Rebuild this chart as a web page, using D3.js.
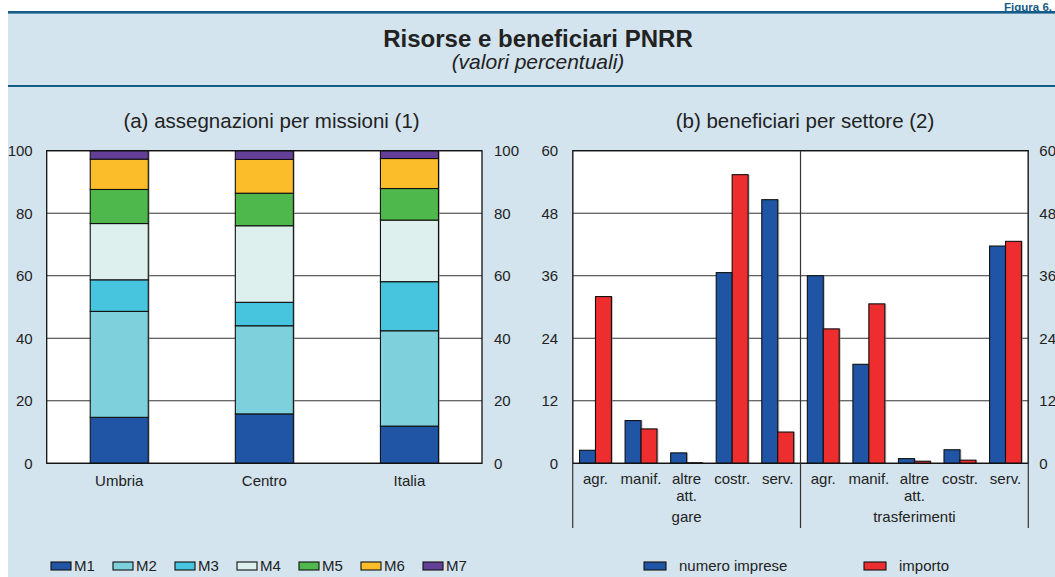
<!DOCTYPE html>
<html>
<head>
<meta charset="utf-8">
<script src="https://cdn.jsdelivr.net/npm/d3@7"></script>
<style>
  html, body { margin: 0; padding: 0; background: #ffffff; }
  svg { display: block; font-family: "Liberation Sans", Arial, sans-serif; }
</style>
</head>
<body>
<svg id="chart" width="1055" height="577"></svg>
<script>
// ---- Panel (a): allocation by mission, per area (percent) ----
const regions = ["Umbria", "Centro", "Italia"];
const missions = ["M1", "M2", "M3", "M4", "M5", "M6", "M7"];
const m1 = [14.7, 15.8, 11.9];
const m2 = [33.9, 28.2, 30.5];
const m3 = [10.1, 7.5, 15.7];
const m4 = [18.0, 24.5, 19.7];
const m5 = [10.9, 10.4, 10.1];
const m6 = [9.7, 10.8, 9.6];
const m7 = [2.7, 2.8, 2.5];
const missionTicks = [0, 20, 40, 60, 80, 100];

// ---- Panel (b): beneficiaries by sector (percent) ----
const channels = ["gare", "trasferimenti"];
const sectors = ["agr.", "manif.", "altre att.", "costr.", "serv."];
const numeroImpreseGare = [2.5, 8.2, 2.0, 36.6, 50.6];
const numeroImpreseTrasf = [36.0, 19.0, 0.9, 2.6, 41.7];
const importoGare = [32.0, 6.6, 0.1, 55.4, 6.0];
const importoTrasf = [25.8, 30.6, 0.4, 0.6, 42.6];
const sectorTicks = [0, 12, 24, 36, 48, 60];
const seriesNames = ["numero imprese", "importo"];

const missionColors = ["#1f55a4", "#7dd0dc", "#48c5de", "#ddf0ee", "#4fb84c", "#fbbd29", "#643f97"];
const seriesColors = ["#1f55a4", "#ee2d2e"];

const svg = d3.select("#chart");
const W = 1055, H = 577;
const bg = "#d3e4ee";
const ink = "#222";

// frame and header
svg.append("rect").attr("x", 8).attr("y", 12).attr("width", W - 8).attr("height", H - 12).attr("fill", bg);
svg.append("text").attr("x", 1052).attr("y", 10.8).attr("text-anchor", "end")
  .attr("font-size", 11.5).attr("font-weight", "bold").attr("fill", "#145c88").text("Figura 6.");
svg.append("rect").attr("x", 8).attr("y", 11).attr("width", W - 8).attr("height", 2.6).attr("fill", "#145c88");
svg.append("rect").attr("x", 8).attr("y", 85).attr("width", W - 8).attr("height", 2).attr("fill", "#145c88");
svg.append("text").attr("x", 538).attr("y", 47).attr("text-anchor", "middle")
  .attr("font-size", 24).attr("font-weight", "bold").attr("fill", ink).text("Risorse e beneficiari PNRR");
svg.append("text").attr("x", 538).attr("y", 69).attr("text-anchor", "middle")
  .attr("font-size", 21).attr("font-style", "italic").attr("fill", ink).text("(valori percentuali)");

// ================= Panel (a) =================
const A = { left: 46.7, right: 482, top: 150.7, bottom: 463.3 };
svg.append("text").attr("x", 271.5).attr("y", 128).attr("text-anchor", "middle")
  .attr("font-size", 20.5).attr("fill", ink).text("(a) assegnazioni per missioni (1)");

const xA = d3.scaleBand().domain(regions).range([A.left, A.right]).paddingInner(0.6).paddingOuter(0.3);
const yA = d3.scaleLinear().domain([0, 100]).range([A.bottom, A.top]);

svg.append("rect").attr("x", A.left).attr("y", A.top).attr("width", A.right - A.left)
  .attr("height", A.bottom - A.top).attr("fill", "#fff");

const gA = svg.append("g");
gA.selectAll("line.grid").data(missionTicks).join("line")
  .attr("x1", A.left).attr("x2", A.right)
  .attr("y1", d => yA(d)).attr("y2", d => yA(d))
  .attr("stroke", "#333").attr("stroke-width", 1);

const missionValues = [m1, m2, m3, m4, m5, m6, m7];
const rowsA = regions.map((r, i) => {
  const o = { region: r };
  missions.forEach((m, k) => { o[m] = missionValues[k][i]; });
  return o;
});
const stackA = d3.stack().keys(missions)(rowsA);

// soft shadow behind each column
gA.selectAll("rect.shadow").data(rowsA).join("rect")
  .attr("x", d => xA(d.region) + 1.5).attr("y", yA(100))
  .attr("width", xA.bandwidth()).attr("height", yA(0) - yA(100))
  .attr("fill", "#888").attr("opacity", 0.55);

stackA.forEach((layer, k) => {
  gA.selectAll(null).data(layer).join("rect")
    .attr("x", d => xA(d.data.region))
    .attr("y", d => yA(d[1]))
    .attr("width", xA.bandwidth())
    .attr("height", d => yA(d[0]) - yA(d[1]))
    .attr("fill", missionColors[k])
    .attr("stroke", "#111").attr("stroke-width", 1.1);
});

svg.append("rect").attr("x", A.left).attr("y", A.top).attr("width", A.right - A.left)
  .attr("height", A.bottom - A.top).attr("fill", "none").attr("stroke", "#111").attr("stroke-width", 1.3);

const axLeftA = svg.append("g").attr("transform", `translate(${A.left - 14},0)`)
  .call(d3.axisLeft(yA).tickValues(missionTicks).tickSize(0).tickPadding(0));
const axRightA = svg.append("g").attr("transform", `translate(${A.right + 12},0)`)
  .call(d3.axisRight(yA).tickValues(missionTicks).tickSize(0).tickPadding(0));
const axBottomA = svg.append("g").attr("transform", `translate(0,${A.bottom})`)
  .call(d3.axisBottom(xA).tickSize(0).tickPadding(0));
[axLeftA, axRightA, axBottomA].forEach(g => {
  g.select(".domain").remove();
  g.selectAll("text").attr("font-size", 15).attr("fill", ink).attr("font-family", null);
});
axBottomA.selectAll("text").attr("y", 23).attr("dy", 0);

// legend (a)
const legA = svg.append("g");
missions.forEach((m, k) => {
  const x0 = 51 + k * 62;
  legA.append("rect").attr("x", x0).attr("y", 562).attr("width", 20).attr("height", 8)
    .attr("fill", missionColors[k]).attr("stroke", "#111").attr("stroke-width", 1.1);
  legA.append("text").attr("x", x0 + 23).attr("y", 570.5).attr("font-size", 15).attr("fill", ink).text(m);
});

// ================= Panel (b) =================
const B = { left: 572.7, right: 1028.3, top: 150.7, bottom: 463.3, axisEnd: 528 };
svg.append("text").attr("x", 805).attr("y", 128).attr("text-anchor", "middle")
  .attr("font-size", 20.5).attr("fill", ink).text("(b) beneficiari per settore (2)");

const xGroup = d3.scaleBand().domain(channels).range([B.left, B.right]);
const xSector = d3.scaleBand().domain(sectors).range([0, xGroup.bandwidth()]).paddingInner(0.3).paddingOuter(0.15);
const xSeries = d3.scaleBand().domain(seriesNames).range([0, xSector.bandwidth()]);
const yB = d3.scaleLinear().domain([0, 60]).range([B.bottom, B.top]);

svg.append("rect").attr("x", B.left).attr("y", B.top).attr("width", B.right - B.left)
  .attr("height", B.bottom - B.top).attr("fill", "#fff");

const gB = svg.append("g");
gB.selectAll("line.grid").data(sectorTicks).join("line")
  .attr("x1", B.left).attr("x2", B.right)
  .attr("y1", d => yB(d)).attr("y2", d => yB(d))
  .attr("stroke", "#333").attr("stroke-width", 1);

const seriesByChannel = {
  "gare": [numeroImpreseGare, importoGare],
  "trasferimenti": [numeroImpreseTrasf, importoTrasf]
};
const barsB = [];
channels.forEach(c => {
  sectors.forEach((s, i) => {
    seriesNames.forEach((n, k) => {
      barsB.push({ channel: c, sector: s, series: n, k, value: seriesByChannel[c][k][i] });
    });
  });
});
const bx = d => xGroup(d.channel) + xSector(d.sector) + xSeries(d.series);

gB.selectAll("rect.shadow").data(barsB).join("rect")
  .attr("x", d => bx(d) + 1.5).attr("y", d => yB(d.value))
  .attr("width", xSeries.bandwidth()).attr("height", d => yB(0) - yB(d.value))
  .attr("fill", "#888").attr("opacity", 0.55);
gB.selectAll("rect.bar").data(barsB).join("rect")
  .attr("x", bx).attr("y", d => yB(d.value))
  .attr("width", xSeries.bandwidth()).attr("height", d => yB(0) - yB(d.value))
  .attr("fill", d => seriesColors[d.k])
  .attr("stroke", "#111").attr("stroke-width", 1.1);

svg.append("rect").attr("x", B.left).attr("y", B.top).attr("width", B.right - B.left)
  .attr("height", B.bottom - B.top).attr("fill", "none").attr("stroke", "#111").attr("stroke-width", 1.3);

// group separators reaching down into the label area
const sepXs = [B.left, xGroup("trasferimenti"), B.right];
svg.selectAll("line.sep").data(sepXs).join("line")
  .attr("x1", d => d).attr("x2", d => d).attr("y1", B.top).attr("y2", B.axisEnd)
  .attr("stroke", "#333").attr("stroke-width", 1.2);

const axLeftB = svg.append("g").attr("transform", `translate(${B.left - 14.5},0)`)
  .call(d3.axisLeft(yB).tickValues(sectorTicks).tickSize(0).tickPadding(0));
const axRightB = svg.append("g").attr("transform", `translate(${B.right + 11},0)`)
  .call(d3.axisRight(yB).tickValues(sectorTicks).tickSize(0).tickPadding(0));
[axLeftB, axRightB].forEach(g => {
  g.select(".domain").remove();
  g.selectAll("text").attr("font-size", 15).attr("fill", ink).attr("font-family", null);
});

// sector labels (may wrap onto two lines) and channel labels
channels.forEach(c => {
  const gc = svg.append("g").attr("transform", `translate(${xGroup(c)},${B.bottom})`)
    .call(d3.axisBottom(xSector).tickSize(0).tickPadding(0));
  gc.select(".domain").remove();
  gc.selectAll("text").attr("font-size", 15).attr("fill", ink).attr("font-family", null)
    .attr("y", 21).attr("dy", 0)
    .each(function (d) {
      const words = d.split(" ");
      const t = d3.select(this).text(null);
      words.forEach((w, j) => {
        t.append("tspan").attr("x", 0).attr("y", 21 + j * 17).text(w);
      });
    });
  svg.append("text").attr("x", xGroup(c) + xGroup.bandwidth() / 2).attr("y", 522)
    .attr("text-anchor", "middle").attr("font-size", 15).attr("fill", ink).text(c);
});

// legend (b)
const legBx = [644, 864];
seriesNames.forEach((n, k) => {
  svg.append("rect").attr("x", legBx[k]).attr("y", 562).attr("width", 22).attr("height", 8)
    .attr("fill", seriesColors[k]).attr("stroke", "#111").attr("stroke-width", 1.1);
  svg.append("text").attr("x", legBx[k] + 35).attr("y", 570.5).attr("font-size", 15).attr("fill", ink).text(n);
});
</script>
</body>
</html>
